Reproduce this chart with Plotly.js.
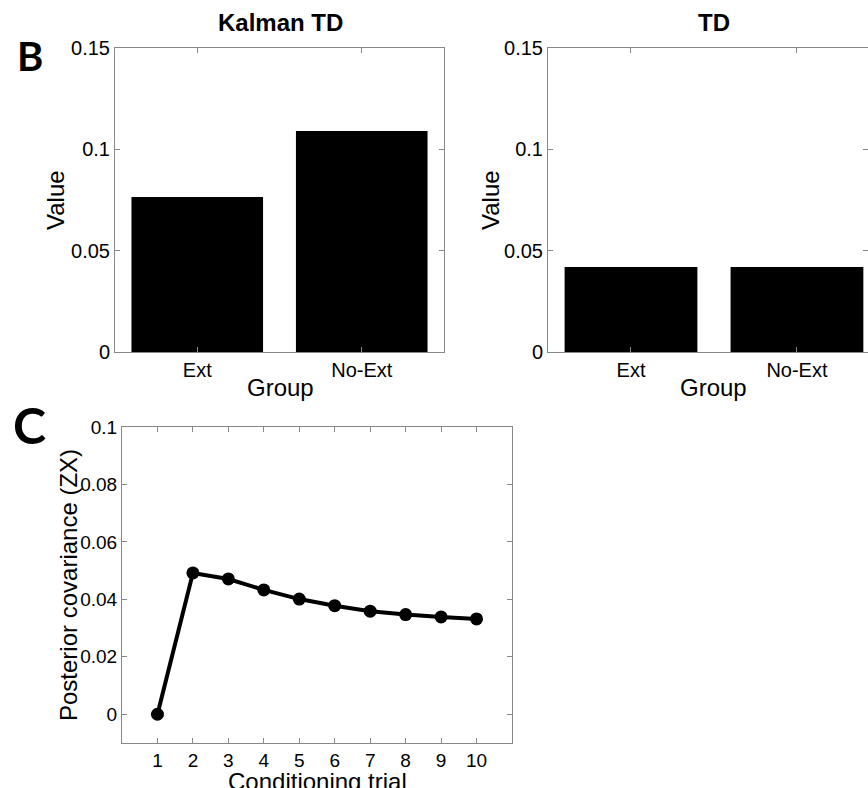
<!DOCTYPE html>
<html>
<head>
<meta charset="utf-8">
<script src="https://cdn.plot.ly/plotly-3.0.1.min.js"></script>
<style>html,body{margin:0;padding:0;overflow:hidden;background:#fff}#chart{width:868px;height:788px}</style>
</head>
<body>
<div id="chart"></div>
<script>
// ---- Data ----
const groups = ['Ext', 'No-Ext'];
const kalmanValues = [0.0765, 0.109];
const tdValues = [0.042, 0.042];
const trials = [1, 2, 3, 4, 5, 6, 7, 8, 9, 10];
const covariance = [0, 0.0492, 0.0471, 0.0433, 0.0401, 0.0378, 0.0359, 0.0347, 0.0339, 0.0332];
const barTicks = [0, 0.05, 0.1, 0.15];
const covTicks = [0, 0.02, 0.04, 0.06, 0.08, 0.1];

// ---- Layout helpers ----
const W = 868, H = 788;
const px = v => v / W;
const py = v => 1 - v / H;
const FONT = 'Liberation Sans, Arial, Helvetica, sans-serif';
const AX = '#888888';

function axisBase(size, extra) {
  return Object.assign({
    showline: true, linecolor: AX, linewidth: 1, mirror: 'ticks',
    ticks: 'inside', ticklen: 5, tickwidth: 1, tickcolor: AX,
    showgrid: false, zeroline: false, fixedrange: true,
    tickfont: {family: FONT, size: size, color: '#000'}
  }, extra);
}

const traces = [
  {type: 'bar', x: groups, y: kalmanValues, xaxis: 'x', yaxis: 'y',
   marker: {color: '#000', line: {width: 0}}, hoverinfo: 'skip'},
  {type: 'bar', x: groups, y: tdValues, xaxis: 'x2', yaxis: 'y2',
   marker: {color: '#000', line: {width: 0}}, hoverinfo: 'skip'},
  {type: 'scatter', mode: 'lines+markers', x: trials, y: covariance, xaxis: 'x3', yaxis: 'y3',
   line: {color: '#000', width: 4}, marker: {color: '#000', size: 13}, hoverinfo: 'skip'}
];

function ann(text, x, y, size, opts) {
  return Object.assign({text: text, xref: 'paper', yref: 'paper', x: px(x), y: py(y),
    xanchor: 'center', yanchor: 'middle', showarrow: false,
    font: {family: FONT, size: size, color: '#000'}}, opts || {});
}

const layout = {
  width: W, height: H,
  margin: {l: 0, r: 0, t: 0, b: 0},
  paper_bgcolor: '#fff', plot_bgcolor: '#fff',
  showlegend: false, bargap: 0.2,
  xaxis: axisBase(20, {domain: [px(115), px(444)], range: [-0.5, 1.5], type: 'category', anchor: 'y'}),
  yaxis: axisBase(20, {domain: [py(352), py(48)], range: [0, 0.15], tickvals: barTicks, anchor: 'x'}),
  xaxis2: axisBase(20, {domain: [px(548), 1], range: [-0.5, 1.428], type: 'category', anchor: 'y2'}),
  yaxis2: axisBase(20, {domain: [py(352), py(48)], range: [0, 0.15], tickvals: barTicks, anchor: 'x2'}),
  xaxis3: axisBase(19, {domain: [px(122), px(512)], range: [0, 11], tickvals: trials, anchor: 'y3'}),
  yaxis3: axisBase(19, {domain: [py(743), py(427)], range: [-0.01, 0.1], tickvals: covTicks, anchor: 'x3'}),
  annotations: [
    ann('<b>Kalman TD</b>', 280, 23, 24),
    ann('<b>TD</b>', 714, 23, 24),
    ann('Value', 55, 200, 24, {textangle: -90}),
    ann('Value', 490, 200, 24, {textangle: -90}),
    ann('Group', 280, 387, 24),
    ann('Group', 713, 387, 24),
    ann('Posterior covariance (ZX)', 68, 585, 24, {textangle: -90}),
    ann('Conditioning trial', 317, 781, 24),
    ann('<b>B</b>', 30, 56, 40, {font: {family: 'Lato, DejaVu Sans, sans-serif', size: 40, color: '#000', weight: 900}}),
    ann('<b>C</b>', 29, 425, 50, {font: {family: 'Lato, DejaVu Sans, sans-serif', size: 50, color: '#000', weight: 900}})
  ]
};

Plotly.newPlot('chart', traces, layout, {displayModeBar: false, staticPlot: true});
</script>
</body>
</html>
